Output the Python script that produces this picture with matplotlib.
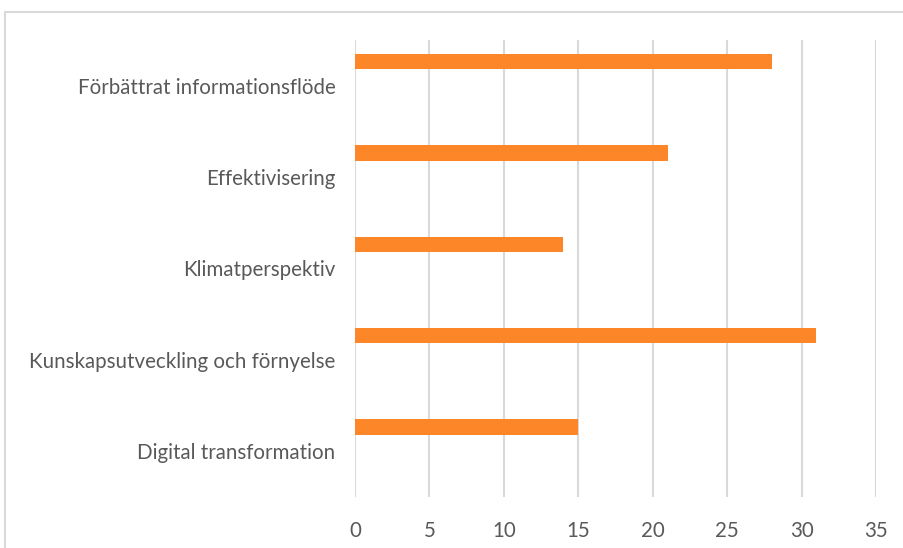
import matplotlib.pyplot as plt
from matplotlib.patches import Rectangle

categories = [
    "Digital transformation",
    "Kunskapsutveckling och förnyelse",
    "Klimatperspektiv",
    "Effektivisering",
    "Förbättrat informationsflöde",
]
values = [15, 31, 14, 21, 28]
x_ticks = [0, 5, 10, 15, 20, 25, 30, 35]

BAR_COLOR = "#fd8628"
GRID_COLOR = "#d9d9d9"
TEXT_COLOR = "#595959"

plt.rcParams["font.family"] = ["Lato", "DejaVu Sans"]

fig = plt.figure(figsize=(9.04, 5.48), dpi=100)
ax = fig.add_axes([355 / 904, 1 - 497 / 548, (876 - 355) / 904, (497 - 40) / 548])

# outer chart frame, partly cut off at right and bottom
fig.patches.append(Rectangle((5 / 904, -0.1), 1.2, 1 - 12 / 548 + 0.1,
                             transform=fig.transFigure, fill=False,
                             edgecolor=GRID_COLOR, linewidth=1.5))

pos = list(range(len(categories)))
bar_offset = 0.265
ax.barh([p + bar_offset for p in pos], values, height=0.17, color=BAR_COLOR)

ax.set_xlim(0, 35)
ax.set_ylim(-0.5, len(categories) - 0.5)
ax.set_xticks(x_ticks)
ax.set_yticks(pos)
ax.set_yticklabels(categories)
ax.xaxis.grid(True, color=GRID_COLOR, linewidth=1.5)
ax.set_axisbelow(True)
for s in ax.spines.values():
    s.set_visible(False)
ax.tick_params(axis="both", length=0, colors=TEXT_COLOR, labelsize=14.8)
ax.tick_params(axis="x", pad=17)
ax.tick_params(axis="y", pad=14)

fig.savefig("out.png", dpi=100)
